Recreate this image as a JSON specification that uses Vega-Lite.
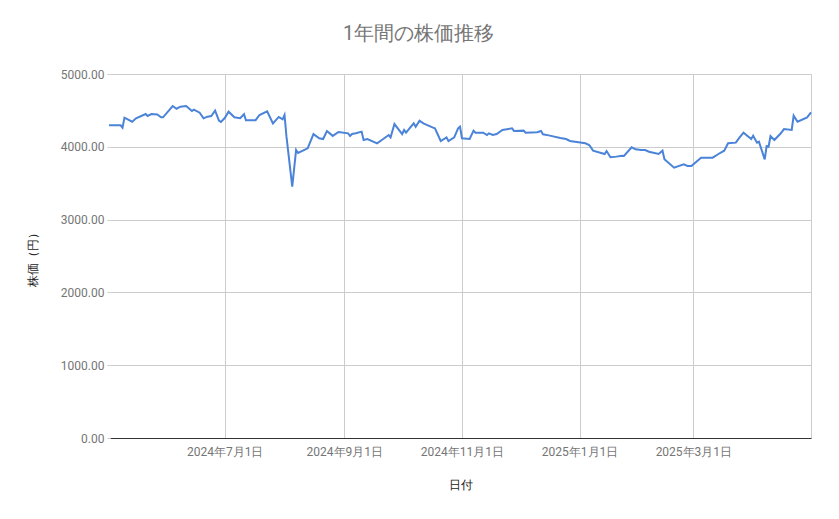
{
  "$schema": "https://vega.github.io/schema/vega-lite/v6.json",
  "width": 701,
  "height": 364,
  "autosize": {"type": "none"},
  "padding": {"left": 110, "top": 74, "right": 28, "bottom": 81},
  "background": "#ffffff",
  "title": {
    "text": "1年間の株価推移",
    "fontSize": 19.5,
    "font": "Roboto",
    "color": "#757575",
    "fontWeight": "normal",
    "anchor": "middle",
    "frame": "group",
    "dx": -42,
    "offset": 24
  },
  "data": {
    "values": [
      {"date": "2024/05/02", "price": 4295},
      {"date": "2024/05/08", "price": 4295},
      {"date": "2024/05/09", "price": 4263},
      {"date": "2024/05/10", "price": 4400},
      {"date": "2024/05/14", "price": 4345},
      {"date": "2024/05/16", "price": 4391},
      {"date": "2024/05/21", "price": 4450},
      {"date": "2024/05/22", "price": 4423},
      {"date": "2024/05/24", "price": 4450},
      {"date": "2024/05/27", "price": 4445},
      {"date": "2024/05/29", "price": 4405},
      {"date": "2024/05/30", "price": 4405},
      {"date": "2024/06/04", "price": 4560},
      {"date": "2024/06/06", "price": 4523},
      {"date": "2024/06/08", "price": 4551},
      {"date": "2024/06/11", "price": 4560},
      {"date": "2024/06/14", "price": 4492},
      {"date": "2024/06/15", "price": 4510},
      {"date": "2024/06/18", "price": 4469},
      {"date": "2024/06/20", "price": 4391},
      {"date": "2024/06/22", "price": 4414},
      {"date": "2024/06/24", "price": 4423},
      {"date": "2024/06/26", "price": 4496},
      {"date": "2024/06/28", "price": 4359},
      {"date": "2024/06/29", "price": 4341},
      {"date": "2024/07/01", "price": 4395},
      {"date": "2024/07/03", "price": 4482},
      {"date": "2024/07/06", "price": 4405},
      {"date": "2024/07/09", "price": 4393},
      {"date": "2024/07/11", "price": 4448},
      {"date": "2024/07/12", "price": 4364},
      {"date": "2024/07/17", "price": 4366},
      {"date": "2024/07/19", "price": 4437},
      {"date": "2024/07/23", "price": 4487},
      {"date": "2024/07/26", "price": 4322},
      {"date": "2024/07/29", "price": 4410},
      {"date": "2024/07/31", "price": 4377},
      {"date": "2024/08/01", "price": 4437},
      {"date": "2024/08/02", "price": 4143},
      {"date": "2024/08/05", "price": 3452},
      {"date": "2024/08/07", "price": 3956},
      {"date": "2024/08/08", "price": 3915},
      {"date": "2024/08/13", "price": 3979},
      {"date": "2024/08/16", "price": 4174},
      {"date": "2024/08/19", "price": 4117},
      {"date": "2024/08/21", "price": 4107},
      {"date": "2024/08/23", "price": 4217},
      {"date": "2024/08/26", "price": 4150},
      {"date": "2024/08/29", "price": 4204},
      {"date": "2024/09/03", "price": 4185},
      {"date": "2024/09/04", "price": 4148},
      {"date": "2024/09/05", "price": 4176},
      {"date": "2024/09/07", "price": 4185},
      {"date": "2024/09/10", "price": 4208},
      {"date": "2024/09/11", "price": 4093},
      {"date": "2024/09/13", "price": 4107},
      {"date": "2024/09/18", "price": 4048},
      {"date": "2024/09/21", "price": 4103},
      {"date": "2024/09/24", "price": 4162},
      {"date": "2024/09/25", "price": 4130},
      {"date": "2024/09/27", "price": 4313},
      {"date": "2024/10/01", "price": 4176},
      {"date": "2024/10/02", "price": 4231},
      {"date": "2024/10/03", "price": 4194},
      {"date": "2024/10/07", "price": 4322},
      {"date": "2024/10/08", "price": 4276},
      {"date": "2024/10/10", "price": 4359},
      {"date": "2024/10/12", "price": 4322},
      {"date": "2024/10/17", "price": 4263},
      {"date": "2024/10/18", "price": 4254},
      {"date": "2024/10/21", "price": 4080},
      {"date": "2024/10/24", "price": 4130},
      {"date": "2024/10/25", "price": 4080},
      {"date": "2024/10/28", "price": 4130},
      {"date": "2024/10/30", "price": 4254},
      {"date": "2024/10/31", "price": 4276},
      {"date": "2024/11/01", "price": 4117},
      {"date": "2024/11/05", "price": 4107},
      {"date": "2024/11/07", "price": 4222},
      {"date": "2024/11/08", "price": 4194},
      {"date": "2024/11/12", "price": 4194},
      {"date": "2024/11/14", "price": 4162},
      {"date": "2024/11/15", "price": 4185},
      {"date": "2024/11/17", "price": 4162},
      {"date": "2024/11/19", "price": 4176},
      {"date": "2024/11/22", "price": 4231},
      {"date": "2024/11/27", "price": 4254},
      {"date": "2024/11/28", "price": 4217},
      {"date": "2024/12/03", "price": 4222},
      {"date": "2024/12/04", "price": 4194},
      {"date": "2024/12/10", "price": 4199},
      {"date": "2024/12/12", "price": 4217},
      {"date": "2024/12/13", "price": 4171},
      {"date": "2024/12/16", "price": 4157},
      {"date": "2024/12/22", "price": 4121},
      {"date": "2024/12/25", "price": 4107},
      {"date": "2024/12/27", "price": 4080},
      {"date": "2025/01/04", "price": 4048},
      {"date": "2025/01/06", "price": 4025},
      {"date": "2025/01/08", "price": 3947},
      {"date": "2025/01/14", "price": 3901},
      {"date": "2025/01/15", "price": 3942},
      {"date": "2025/01/17", "price": 3856},
      {"date": "2025/01/20", "price": 3865},
      {"date": "2025/01/23", "price": 3878},
      {"date": "2025/01/24", "price": 3874},
      {"date": "2025/01/28", "price": 3993},
      {"date": "2025/01/30", "price": 3966},
      {"date": "2025/02/02", "price": 3956},
      {"date": "2025/02/04", "price": 3956},
      {"date": "2025/02/06", "price": 3933},
      {"date": "2025/02/11", "price": 3901},
      {"date": "2025/02/13", "price": 3947},
      {"date": "2025/02/14", "price": 3828},
      {"date": "2025/02/19", "price": 3713},
      {"date": "2025/02/24", "price": 3759},
      {"date": "2025/02/26", "price": 3736},
      {"date": "2025/02/28", "price": 3736},
      {"date": "2025/03/05", "price": 3851},
      {"date": "2025/03/11", "price": 3851},
      {"date": "2025/03/14", "price": 3901},
      {"date": "2025/03/17", "price": 3947},
      {"date": "2025/03/19", "price": 4048},
      {"date": "2025/03/23", "price": 4057},
      {"date": "2025/03/25", "price": 4130},
      {"date": "2025/03/27", "price": 4194},
      {"date": "2025/03/31", "price": 4107},
      {"date": "2025/04/01", "price": 4153},
      {"date": "2025/04/03", "price": 4057},
      {"date": "2025/04/04", "price": 4071},
      {"date": "2025/04/07", "price": 3828},
      {"date": "2025/04/08", "price": 4011},
      {"date": "2025/04/09", "price": 4002},
      {"date": "2025/04/10", "price": 4148},
      {"date": "2025/04/12", "price": 4093},
      {"date": "2025/04/15", "price": 4176},
      {"date": "2025/04/16", "price": 4208},
      {"date": "2025/04/17", "price": 4244},
      {"date": "2025/04/21", "price": 4231},
      {"date": "2025/04/22", "price": 4428},
      {"date": "2025/04/24", "price": 4345},
      {"date": "2025/04/29", "price": 4405},
      {"date": "2025/05/01", "price": 4473}
    ]
  },
  "mark": {"type": "line", "color": "#4a83d8", "strokeWidth": 2, "interpolate": "linear", "clip": false},
  "encoding": {
    "x": {
      "field": "date",
      "type": "temporal",
      "scale": {
        "domain": [
          {"year": 2024, "month": 5, "date": 2, "hours": 12},
          {"year": 2025, "month": 5, "date": 1}
        ],
        "nice": false
      },
      "axis": {
        "title": "日付",
        "values": [
          {"year": 2024, "month": 7, "date": 1},
          {"year": 2024, "month": 9, "date": 1},
          {"year": 2024, "month": 11, "date": 1},
          {"year": 2025, "month": 1, "date": 1},
          {"year": 2025, "month": 3, "date": 1},
          {"year": 2025, "month": 5, "date": 1}
        ],
        "labelExpr": "month(datum.value) == 4 ? '' : timeFormat(datum.value, '%Y年%-m月%-d日')",
        "grid": true,
        "gridColor": "#cccccc",
        "gridWidth": 1,
        "ticks": false,
        "domain": true,
        "domainColor": "#333333",
        "domainWidth": 1,
        "labelColor": "#757575",
        "labelFont": "Roboto",
        "labelFontSize": 12,
        "labelPadding": 8,
        "labelFlush": false,
        "labelOverlap": false,
        "titleColor": "#222222",
        "titleFont": "Roboto",
        "titleFontSize": 12,
        "titleFontWeight": "normal",
        "titlePadding": 22
      }
    },
    "y": {
      "field": "price",
      "type": "quantitative",
      "scale": {"domain": [0, 5000], "nice": false, "zero": true},
      "axis": {
        "title": "株価（円）",
        "values": [0, 1000, 2000, 3000, 4000, 5000],
        "format": ".2f",
        "grid": true,
        "gridColor": "#cccccc",
        "gridWidth": 1,
        "ticks": true,
        "tickSize": 3,
        "tickColor": "#cccccc",
        "domain": false,
        "labelColor": "#757575",
        "labelFont": "Roboto",
        "labelFontSize": 12,
        "labelPadding": 3,
        "titleColor": "#222222",
        "titleFont": "Roboto",
        "titleFontSize": 12,
        "titleFontWeight": "normal",
        "titlePadding": 21
      }
    }
  },
  "config": {
    "view": {"stroke": null},
    "font": "Roboto"
  }
}
